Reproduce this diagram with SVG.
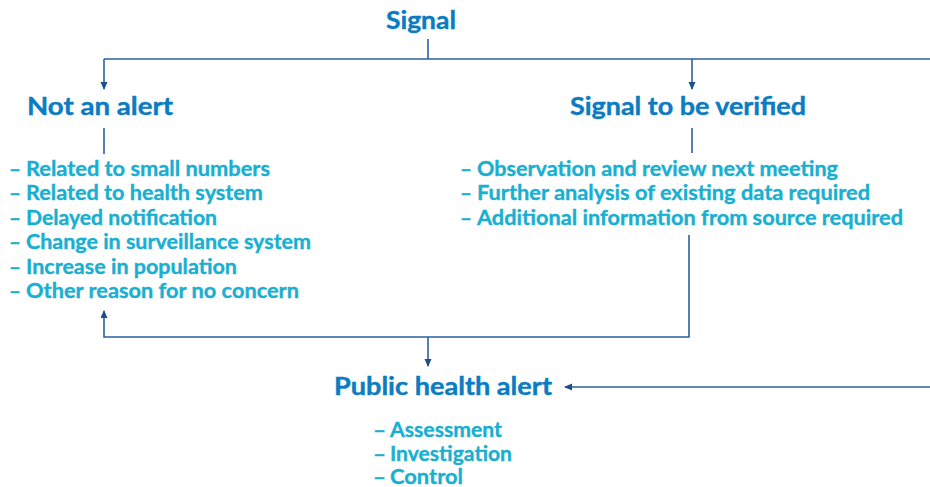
<svg xmlns="http://www.w3.org/2000/svg" width="930" height="487" viewBox="0 0 930 487">
<style>
.h{font-family:Lato,"Open Sans","DejaVu Sans",sans-serif;font-weight:700;font-size:24px;fill:#0b7cc1;stroke:#0b7cc1;stroke-width:0.4}
.i{font-family:Lato,"Open Sans","DejaVu Sans",sans-serif;font-weight:700;font-size:20.5px;fill:#19afd0;stroke:#19afd0;stroke-width:0.35}
.c{fill:none;stroke:#2d5f9f;stroke-width:1.6}
</style>
<defs>
<marker id="ah" markerUnits="userSpaceOnUse" markerWidth="8" markerHeight="8" refX="7" refY="3.5" orient="auto">
<path d="M0,0 L8,3.5 L0,7 z" fill="#1f4e8e"/>
</marker>
</defs>
<g id="connectors">
<path class="c" d="M428,39 V59"/>
<path class="c" d="M104,59 H930"/>
<path class="c" d="M104,59 V89" marker-end="url(#ah)"/>
<path class="c" d="M692,59 V89" marker-end="url(#ah)"/>
<path class="c" d="M104,128 V154"/>
<path class="c" d="M692,128 V153"/>
<path class="c" d="M689,235 V337 H104 V311" marker-end="url(#ah)"/>
<path class="c" d="M428,337 V366" marker-end="url(#ah)"/>
<path class="c" d="M930,387 H565" marker-end="url(#ah)"/>
</g>
<g id="signal">
<text class="h" x="386" y="29" textLength="70" lengthAdjust="spacingAndGlyphs">Signal</text>
</g>
<g id="not-an-alert">
<text class="h" x="27" y="115" textLength="146" lengthAdjust="spacingAndGlyphs">Not an alert</text>
<text class="i" x="9" y="176" textLength="12" lengthAdjust="spacingAndGlyphs">–</text>
<text class="i" x="26" y="176" textLength="244" lengthAdjust="spacingAndGlyphs">Related to small numbers</text>
<text class="i" x="9" y="200" textLength="12" lengthAdjust="spacingAndGlyphs">–</text>
<text class="i" x="26" y="200" textLength="237" lengthAdjust="spacingAndGlyphs">Related to health system</text>
<text class="i" x="9" y="225" textLength="12" lengthAdjust="spacingAndGlyphs">–</text>
<text class="i" x="26" y="225" textLength="191" lengthAdjust="spacingAndGlyphs">Delayed notification</text>
<text class="i" x="9" y="249" textLength="12" lengthAdjust="spacingAndGlyphs">–</text>
<text class="i" x="26" y="249" textLength="285" lengthAdjust="spacingAndGlyphs">Change in surveillance system</text>
<text class="i" x="9" y="274" textLength="12" lengthAdjust="spacingAndGlyphs">–</text>
<text class="i" x="26" y="274" textLength="211" lengthAdjust="spacingAndGlyphs">Increase in population</text>
<text class="i" x="9" y="298" textLength="12" lengthAdjust="spacingAndGlyphs">–</text>
<text class="i" x="26" y="298" textLength="273" lengthAdjust="spacingAndGlyphs">Other reason for no concern</text>
</g>
<g id="signal-to-be-verified">
<text class="h" x="570" y="115" textLength="236" lengthAdjust="spacingAndGlyphs">Signal to be verified</text>
<text class="i" x="460" y="176" textLength="12" lengthAdjust="spacingAndGlyphs">–</text>
<text class="i" x="477" y="176" textLength="361" lengthAdjust="spacingAndGlyphs">Observation and review next meeting</text>
<text class="i" x="460" y="200" textLength="12" lengthAdjust="spacingAndGlyphs">–</text>
<text class="i" x="477" y="200" textLength="393" lengthAdjust="spacingAndGlyphs">Further analysis of existing data required</text>
<text class="i" x="460" y="225" textLength="12" lengthAdjust="spacingAndGlyphs">–</text>
<text class="i" x="477" y="225" textLength="426" lengthAdjust="spacingAndGlyphs">Additional information from source required</text>
</g>
<g id="public-health-alert">
<text class="h" x="334" y="395" textLength="218" lengthAdjust="spacingAndGlyphs">Public health alert</text>
<text class="i" x="373" y="437" textLength="13" lengthAdjust="spacingAndGlyphs">–</text>
<text class="i" x="390" y="437" textLength="112" lengthAdjust="spacingAndGlyphs">Assessment</text>
<text class="i" x="373" y="461" textLength="13" lengthAdjust="spacingAndGlyphs">–</text>
<text class="i" x="390" y="461" textLength="122" lengthAdjust="spacingAndGlyphs">Investigation</text>
<text class="i" x="373" y="484" textLength="13" lengthAdjust="spacingAndGlyphs">–</text>
<text class="i" x="390" y="484" textLength="73" lengthAdjust="spacingAndGlyphs">Control</text>
</g>
</svg>
